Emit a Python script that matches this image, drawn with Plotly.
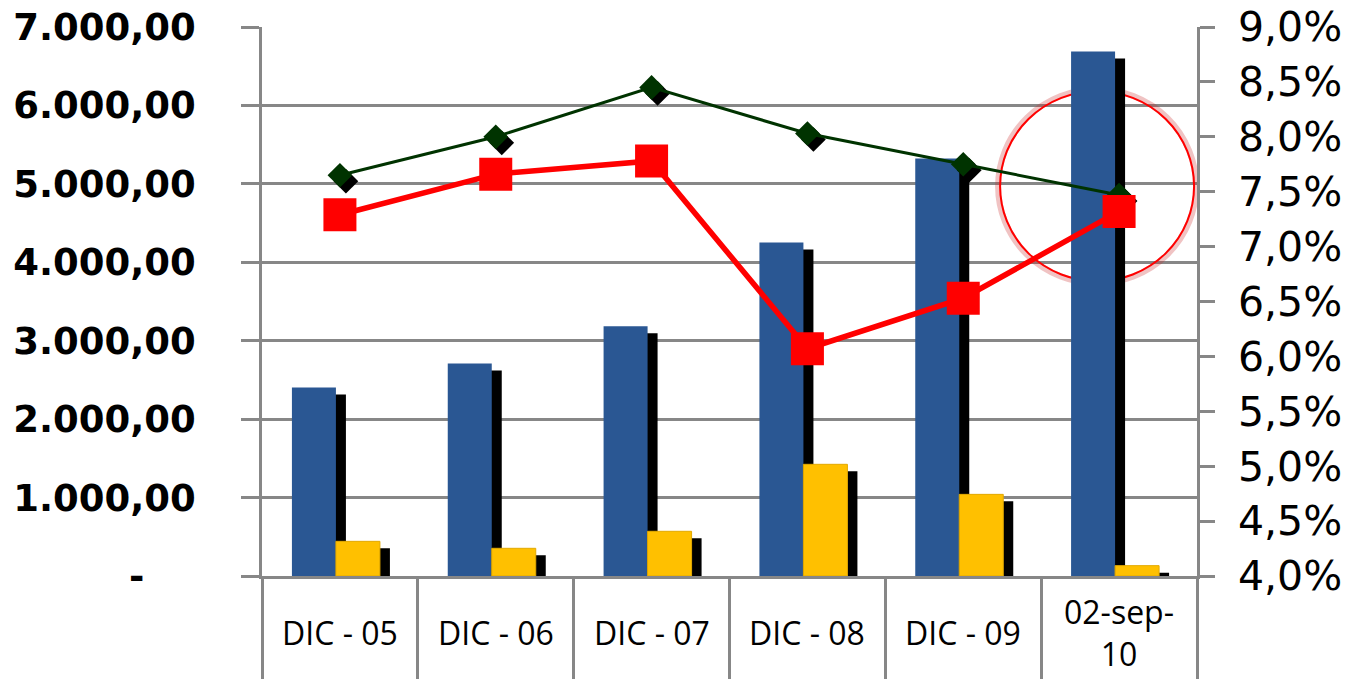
import plotly.graph_objects as go

# ---------------- data ----------------
categories = ["DIC - 05", "DIC - 06", "DIC - 07", "DIC - 08", "DIC - 09", "02-sep-10"]
category_labels = ["DIC - 05", "DIC - 06", "DIC - 07", "DIC - 08", "DIC - 09", "02-sep-<br>10"]
blue_values = [2405, 2711, 3183, 4253, 5324, 6688]
yellow_values = [442, 353, 570, 1424, 1041, 132]
green_rate = [7.65, 8.00, 8.45, 8.03, 7.75, 7.47]
red_rate = [7.29, 7.66, 7.78, 6.07, 6.53, 7.32]

left_tickvals = [0, 1000, 2000, 3000, 4000, 5000, 6000, 7000]
left_ticktext = ["-\u00a0\u00a0\u00a0\u00a0", "1.000,00", "2.000,00", "3.000,00",
                 "4.000,00", "5.000,00", "6.000,00", "7.000,00"]
right_tickvals = [4.0, 4.5, 5.0, 5.5, 6.0, 6.5, 7.0, 7.5, 8.0, 8.5, 9.0]
right_ticktext = ["4,0%", "4,5%", "5,0%", "5,5%", "6,0%", "6,5%",
                  "7,0%", "7,5%", "8,0%", "8,5%", "9,0%"]

# ---------------- layout constants ----------------
W, H = 1356, 679
ML, MR, MT, MB = 262, 159, 27, 103
PLOT_W = W - ML - MR
PLOT_H = H - MT - MB
Y_MAX = 7000
Y2_MIN, Y2_MAX = 4.0, 9.0
N = len(categories)

px_x = N / PLOT_W               # category units per px
px_y = Y_MAX / PLOT_H           # left units per px
px_y2 = (Y2_MAX - Y2_MIN) / PLOT_H

BAR_W = 44 * px_x
BLUE_OFF = -48 * px_x
YEL_OFF = -4 * px_x
SH_DX = 10 * px_x
SH_DY = 7 * px_y

GRID = "#878787"
BLUE = "#2A5793"
YELLOW = "#FFC000"
DGREEN = "#003300"
RED = "#FF0000"

fig = go.Figure()

# blue shadow + bar
fig.add_trace(go.Bar(x=categories, y=[max(v - SH_DY, 0) for v in blue_values],
                     offset=BLUE_OFF + SH_DX, width=BAR_W,
                     marker=dict(color="black", line=dict(width=0)),
                     showlegend=False, hoverinfo="skip"))
fig.add_trace(go.Bar(x=categories, y=blue_values, offset=BLUE_OFF, width=BAR_W,
                     marker=dict(color=BLUE, line=dict(width=0)),
                     showlegend=False))
# yellow shadow + bar
fig.add_trace(go.Bar(x=categories, y=[max(v - SH_DY, 0) for v in yellow_values],
                     offset=YEL_OFF + SH_DX, width=BAR_W,
                     marker=dict(color="black", line=dict(width=0)),
                     showlegend=False, hoverinfo="skip"))
fig.add_trace(go.Bar(x=categories, y=yellow_values, offset=YEL_OFF, width=BAR_W,
                     marker=dict(color=YELLOW, line=dict(color="#E3A900", width=1)),
                     showlegend=False))

xi = list(range(N))
# green line: shadow diamonds, then line + diamonds
fig.add_trace(go.Scatter(x=[i + 6 * px_x for i in xi], y=[v - 6 * px_y2 for v in green_rate],
                         xaxis="x2", yaxis="y2", mode="markers",
                         marker=dict(symbol="diamond", size=19, color="black"),
                         showlegend=False, hoverinfo="skip"))
fig.add_trace(go.Scatter(x=xi, y=green_rate, xaxis="x2", yaxis="y2", mode="lines+markers",
                         line=dict(color=DGREEN, width=3),
                         marker=dict(symbol="diamond", size=19, color=DGREEN),
                         showlegend=False))
# red line
fig.add_trace(go.Scatter(x=xi, y=red_rate, xaxis="x2", yaxis="y2", mode="lines+markers",
                         line=dict(color=RED, width=5.5),
                         marker=dict(symbol="square", size=33, color=RED),
                         showlegend=False))

# highlight circle around the last period (on the primary axes, between grid and traces)
cx = (N - 1) - 22 * px_x
cy = (7.55 - Y2_MIN) / (Y2_MAX - Y2_MIN) * Y_MAX
rx = 97 * px_x
ry = 95 * px_y
fig.add_shape(type="circle", xref="x", yref="y", layer="between",
              x0=cx - rx - 2 * px_x, x1=cx + rx + 2 * px_x,
              y0=cy - ry - 2 * px_y, y1=cy + ry + 2 * px_y,
              line=dict(color="rgba(200,40,40,0.28)", width=6))
fig.add_shape(type="circle", xref="x", yref="y", layer="between",
              x0=cx - rx, x1=cx + rx, y0=cy - ry, y1=cy + ry,
              line=dict(color=RED, width=2))

# category labels, vertically centred in the band below the axis
for cat, lab in zip(categories, category_labels):
    fig.add_annotation(x=cat, xref="x", y=-57 / PLOT_H, yref="paper",
                       text=lab, showarrow=False, xanchor="center", yanchor="middle",
                       font=dict(family="Open Sans", size=32, color="black"))

fig.update_layout(
    width=W, height=H,
    margin=dict(l=ML, r=MR, t=MT, b=MB, pad=0, autoexpand=False),
    paper_bgcolor="white", plot_bgcolor="white",
    barmode="overlay",
    showlegend=False,
    xaxis=dict(type="category", range=[-0.5, N - 0.5], showgrid=False,
               showline=True, linecolor=GRID, linewidth=2.5,
               ticks="", showticklabels=False, fixedrange=True),
    xaxis2=dict(overlaying="x", anchor="y", side="bottom", range=[-0.5, N - 0.5],
                showgrid=False, zeroline=False, showline=False,
                tickvals=[i - 0.5 for i in range(N + 1)], ticks="outside",
                ticklen=104, tickwidth=2.5, tickcolor=GRID, showticklabels=False),
    yaxis=dict(range=[0, Y_MAX], tickvals=left_tickvals, ticktext=left_ticktext,
               showgrid=True, gridcolor=GRID, gridwidth=2.5, zeroline=False,
               showline=True, linecolor=GRID, linewidth=2.5,
               ticks="outside", ticklen=18, tickwidth=2.5, tickcolor=GRID,
               ticklabelstandoff=38, ticklabeloverflow="allow", automargin=False,
               tickfont=dict(family="DejaVu Sans", size=37, color="black", weight="bold")),
    yaxis2=dict(overlaying="y", side="right", anchor="x", range=[Y2_MIN, Y2_MAX],
                tickvals=right_tickvals, ticktext=right_ticktext,
                showgrid=False, zeroline=False,
                showline=True, linecolor=GRID, linewidth=2.5,
                ticks="outside", ticklen=15, tickwidth=2.5, tickcolor=GRID,
                ticklabelstandoff=15, ticklabeloverflow="allow", automargin=False,
                tickfont=dict(family="DejaVu Sans", size=41, color="black")),
)

# place the figure at the page's top-left corner (remove the default body margin)
fig.write_html("out.html", config={"displayModeBar": False},
               post_script="document.body.style.margin='0px';")
